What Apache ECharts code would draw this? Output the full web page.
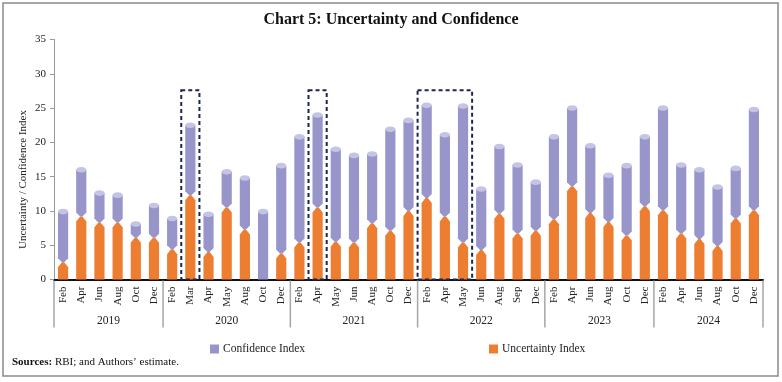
<!DOCTYPE html>
<html><head><meta charset="utf-8">
<script src="https://cdn.jsdelivr.net/npm/echarts@6/dist/echarts.min.js"></script>
<style>html,body{margin:0;padding:0;background:#fff}#c{width:782px;height:382px}</style>
</head><body><div id="c"></div>
<script>
// ---- data ----
const months = ['Feb','Apr','Jun','Aug','Oct','Dec',
  'Feb','Mar','Apr','May','Aug','Oct','Dec',
  'Feb','Apr','May','Jun','Aug','Oct','Dec',
  'Feb','Apr','May','Jun','Aug','Sep','Dec',
  'Feb','Apr','Jun','Aug','Oct','Dec',
  'Feb','Apr','Jun','Aug','Oct','Dec'];
const years = ['2019','2020','2021','2022','2023','2024'];
const yearCounts = [6,7,7,7,6,6];
const uncertainty = [2.5,9.2,8.3,8.3,6.1,6.1,
  4.4,12.3,4.0,10.5,7.3,0,3.8,
  5.4,10.5,5.5,5.4,8.2,7.1,10.0,
  11.9,9.2,5.4,4.3,9.6,6.7,7.1,
  8.8,13.6,9.7,8.4,6.4,10.7,
  10.1,6.7,5.9,4.9,8.9,10.1];
const confidence = [9.9,16.0,12.6,12.3,8.1,10.8,
  8.9,22.5,9.5,15.7,14.8,9.9,16.6,
  20.8,24.0,19.0,18.1,18.3,21.9,23.2,
  25.4,21.1,25.3,13.2,19.4,16.7,14.2,
  20.8,25.0,19.5,15.2,16.6,20.8,
  25.0,16.7,16.0,13.5,16.2,24.8];
// highlighted periods: [first category index, last category index]
const highlights = [[7,7],[14,14],[20,22]];
const highlightTop = 27.6;

// ---- build ----
const ORANGE = '#ed7d31', PURPLE = '#9795c9', CAP = '#c6c4e6';
const barRatio = 0.56;
const idx = months.map((_, i) => i);
const uData = idx.map(i => [i, uncertainty[i]]);
const cData = idx.map(i => [i, uncertainty[i], confidence[i]]);
const groups = [];
{ let s = 0; yearCounts.forEach(n => { groups.push([s, s + n - 1]); s += n; }); }

function renderU(params, api) {
  const i = api.value(0), u = api.value(1);
  if (!(u > 0)) return null;
  const base = api.coord([i, 0]), top = api.coord([i, u]);
  const w = api.size([1, 0])[0] * barRatio;
  const x = base[0];
  const tip = Math.min(5, (base[1] - top[1]) / 2);
  const nw = w * 0.22;
  return { type: 'polygon', shape: { points: [
      [x - w/2, base[1]], [x - w/2, top[1] + tip], [x - nw/2, top[1]],
      [x + nw/2, top[1]], [x + w/2, top[1] + tip], [x + w/2, base[1]] ] },
    style: { fill: ORANGE } };
}
function renderC(params, api) {
  const i = api.value(0), u = api.value(1), c = api.value(2);
  const lo = api.coord([i, u]), hi = api.coord([i, c]);
  const w = api.size([1, 0])[0] * barRatio;
  const x = lo[0];
  const neck = u > 0 ? 4 : 0;
  const nw = u > 0 ? w * 0.22 : w;
  return { type: 'group', children: [
    { type: 'polygon', shape: { points: [
        [x - nw/2, lo[1]], [x - w/2, lo[1] - neck], [x - w/2, hi[1]],
        [x + w/2, hi[1]], [x + w/2, lo[1] - neck], [x + nw/2, lo[1]] ] },
      style: { fill: PURPLE } },
    { type: 'ellipse', shape: { cx: x, cy: hi[1], rx: w/2, ry: 2.8 },
      style: { fill: CAP } }
  ] };
}
function renderBox(params, api) {
  const a = api.value(0), b = api.value(1), t = api.value(2);
  const bw = api.size([1, 0])[0];
  const p0 = api.coord([a, 0]), p1 = api.coord([b, t]);
  const x0 = p0[0] - bw/2, x1 = p1[0] + bw/2;
  return { type: 'rect', shape: { x: x0, y: p1[1], width: x1 - x0, height: p0[1] - p1[1] },
    style: { fill: null, stroke: '#1d2550', lineWidth: 2, lineDash: [4, 3] } };
}
function renderYear(params, api) {
  const a = api.value(0), b = api.value(1);
  const bw = api.size([1, 0])[0];
  const p0 = api.coord([a, 0]), p1 = api.coord([b, 0]);
  const x0 = p0[0] - bw/2, x1 = p1[0] + bw/2;
  const y = p0[1];
  const children = [
    { type: 'line', shape: { x1: x0, y1: y + 1, x2: x0, y2: y + 48 }, style: { stroke: '#a6a6a6', lineWidth: 1.5 } },
    { type: 'text', style: { text: years[params.dataIndex], x: (x0 + x1)/2, y: y + 41,
        align: 'center', verticalAlign: 'middle', fontSize: 11.5, fontFamily: 'Liberation Serif', fill: '#222' } }
  ];
  if (params.dataIndex === groups.length - 1) {
    children.push({ type: 'line', shape: { x1: x1, y1: y + 1, x2: x1, y2: y + 48 }, style: { stroke: '#a6a6a6', lineWidth: 1.5 } });
  }
  return { type: 'group', children };
}

const chart = echarts.init(document.getElementById('c'), null, { renderer: 'canvas' });
const serif = 'Liberation Serif';
chart.setOption({
  animation: false,
  textStyle: { fontFamily: serif },
  title: { text: 'Chart 5: Uncertainty and Confidence', left: 'center', top: 7,
    textStyle: { fontFamily: serif, fontSize: 16, fontWeight: 'bold', color: '#111' } },
  legend: [
    { data: [{ name: 'Confidence Index', itemStyle: { color: PURPLE } }], left: 205, top: 338,
      icon: 'rect', itemWidth: 9, itemHeight: 9, itemGap: 4,
      textStyle: { fontFamily: serif, fontSize: 11.5, color: '#222', padding: [0,0,0,-1] } },
    { data: [{ name: 'Uncertainty Index', itemStyle: { color: ORANGE } }], left: 484, top: 338,
      icon: 'rect', itemWidth: 9, itemHeight: 9, itemGap: 4,
      textStyle: { fontFamily: serif, fontSize: 11.5, color: '#222', padding: [0,0,0,-1] } }
  ],
  grid: { left: 54, right: 19, top: 39.5, bottom: 102.5 },
  xAxis: { type: 'category', data: months, boundaryGap: true,
    axisLine: { lineStyle: { color: '#111', width: 2 } },
    axisTick: { show: false },
    axisLabel: { rotate: 90, interval: 0, margin: 7, fontSize: 11, fontFamily: serif, color: '#222' } },
  yAxis: { type: 'value', min: 0, max: 35, interval: 5,
    name: 'Uncertainty / Confidence Index', nameLocation: 'middle', nameGap: 25, nameMoveOverlap: false,
    nameTextStyle: { fontFamily: serif, fontSize: 11, color: '#222', padding: [0, 40, 0, 0] },
    axisLine: { show: true, lineStyle: { color: '#9a9a9a', width: 1 } },
    axisTick: { show: true, length: 4, lineStyle: { color: '#9a9a9a' } },
    splitLine: { show: false },
    axisLabel: { fontSize: 11, fontFamily: serif, color: '#222', margin: 8 } },
  graphic: [
    { type: 'rect', shape: { x: 3, y: 3, width: 775, height: 373 },
      style: { fill: null, stroke: '#8a8a8a', lineWidth: 1.5 }, silent: true },
    { type: 'text', left: 12, top: 357, style: {
        text: '{b|Sources:} RBI; and Authors\u2019 estimate.',
        rich: { b: { fontWeight: 'bold', fontFamily: serif, fontSize: 11, fill: '#111' } },
        fontFamily: serif, fontSize: 11, fill: '#111' } }
  ],
  series: [
    { name: 'Uncertainty Index', type: 'custom', renderItem: renderU, data: uData,
      encode: { x: 0, y: 1 }, itemStyle: { color: ORANGE }, z: 3 },
    { name: 'Confidence Index', type: 'custom', renderItem: renderC, data: cData,
      encode: { x: 0, y: [1, 2] }, itemStyle: { color: PURPLE }, z: 2 },
    { name: 'highlight', type: 'custom', renderItem: renderBox,
      data: highlights.map(h => [h[0], h[1], highlightTop]), encode: { x: [0, 1], y: 2 }, z: 4, silent: true },
    { name: 'years', type: 'custom', renderItem: renderYear, clip: false,
      data: groups, encode: { x: [0, 1] }, z: 5, silent: true }
  ]
});
</script></body></html>
